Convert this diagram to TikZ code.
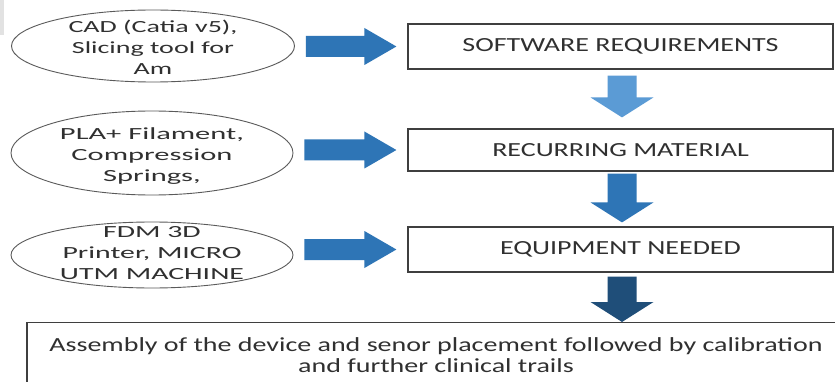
\documentclass[tikz,border=0pt]{standalone}
\usepackage{fontspec}
\usepackage{graphicx}
\setmainfont{Carlito}[FakeStretch=1.4]
\usetikzlibrary{shapes.geometric,calc}

\definecolor{bluemid}{HTML}{2E75B6}
\definecolor{bluelight}{HTML}{5B9BD5}
\definecolor{bluedark}{HTML}{1F4E79}
\definecolor{boxline}{HTML}{3F3F3F}
\definecolor{ovalline}{HTML}{5A5A5A}
\definecolor{inktext}{HTML}{303030}
\definecolor{edgegrey}{HTML}{E2E2E2}

\tikzset{
  stagebox/.style={draw=boxline, line width=1.2pt, minimum width=425pt,
    inner sep=0pt, text=inktext, font=\fontsize{20}{24}\selectfont},
  oval/.style={ellipse, draw=ovalline, line width=0.9pt, inner sep=0pt},
  ovaltext/.style={inner sep=0pt, text=inktext,
    font=\fontsize{17}{21}\selectfont},
  finalbox/.style={draw=boxline, line width=1.2pt, anchor=north,
    minimum width=818pt, inner xsep=0pt, inner ysep=15pt, align=center,
    text=inktext, font=\fontsize{20}{21}\selectfont},
}

% three centred lines set to a given overall width
\newcommand\ovallines[4]{%
  \resizebox*{#1}{\totalheight}{\begin{tabular}{@{}c@{}}#2\\#3\\#4\end{tabular}}}

% block arrow pointing right, from an oval to a stage box
\newcommand\rightblock[3]{%
  \fill[#3] let \p1=(#1.east), \p2=(#2.west) in
    (\x1+11pt,\y2+10.5pt) -- (\x2-43pt,\y2+10.5pt) -- (\x2-43pt,\y2+18.5pt)
    -- (\x2-11pt,\y2) -- (\x2-43pt,\y2-18.5pt) -- (\x2-43pt,\y2-10.5pt)
    -- (\x1+11pt,\y2-10.5pt) -- cycle;}

% block arrow pointing down between two boxes; #4 = gap above, #5 = gap below
\newcommand\downblock[5]{%
  \fill[#3] let \p1=(#1.south), \p2=(#2.north) in
    (\x1-13pt,\y1-#4) -- (\x1+16pt,\y1-#4) -- (\x1+16pt,\y2+#5+20pt)
    -- (\x1+33pt,\y2+#5+20pt) -- (\x1+1.5pt,\y2+#5) -- (\x1-30pt,\y2+#5+20pt)
    -- (\x1-13pt,\y2+#5+20pt) -- cycle;}

\begin{document}
\begin{tikzpicture}[x=1pt, y=-1pt]
  \clip (0,0) rectangle (835,382);
  \fill[white] (0,0) rectangle (835,382);
  \fill[edgegrey] (0,0) rectangle (4,35);

  % inputs
  \node[oval, minimum width=283pt, minimum height=72pt] (e1) at (153,46) {};
  \node[ovaltext] (e1t) at (153,49)
    {\ovallines{169pt}{CAD (Catia v5),}{Slicing tool for}{Am}};
  \node[oval, minimum width=282pt, minimum height=84pt] (e2) at (152,153) {};
  \node[ovaltext] (e2t) at (152,156)
    {\ovallines{184pt}{PLA+ Filament,}{Compression}{Springs,}};
  \node[oval, minimum width=282pt, minimum height=66pt] (e3) at (152,255) {};
  \node[ovaltext] (e3t) at (152,254)
    {\ovallines{184pt}{FDM 3D}{Printer, MICRO}{UTM MACHINE}};

  % stages
  \node[stagebox, minimum height=45pt] (b1) at (620.5,46.5) {SOFTWARE REQUIREMENTS};
  \node[stagebox, minimum height=42pt] (b2) at (620.5,150) {RECURRING MATERIAL};
  \node[stagebox, minimum height=45pt] (b3) at (620.5,249.5) {EQUIPMENT NEEDED};
  \node[finalbox] (b4) at (436,322)
    {Assembly of the device and senor placement followed by calibration\\
     and further clinical trails};

  % connectors
  \rightblock{e1}{b1}{bluemid}
  \rightblock{e2}{b2}{bluemid}
  \rightblock{e3}{b3}{bluemid}
  \downblock{b1}{b2}{bluelight}{6pt}{11pt}
  \downblock{b2}{b3}{bluemid}{2pt}{4pt}
  \downblock{b3}{b4}{bluedark}{4pt}{0pt}
\end{tikzpicture}
\end{document}
